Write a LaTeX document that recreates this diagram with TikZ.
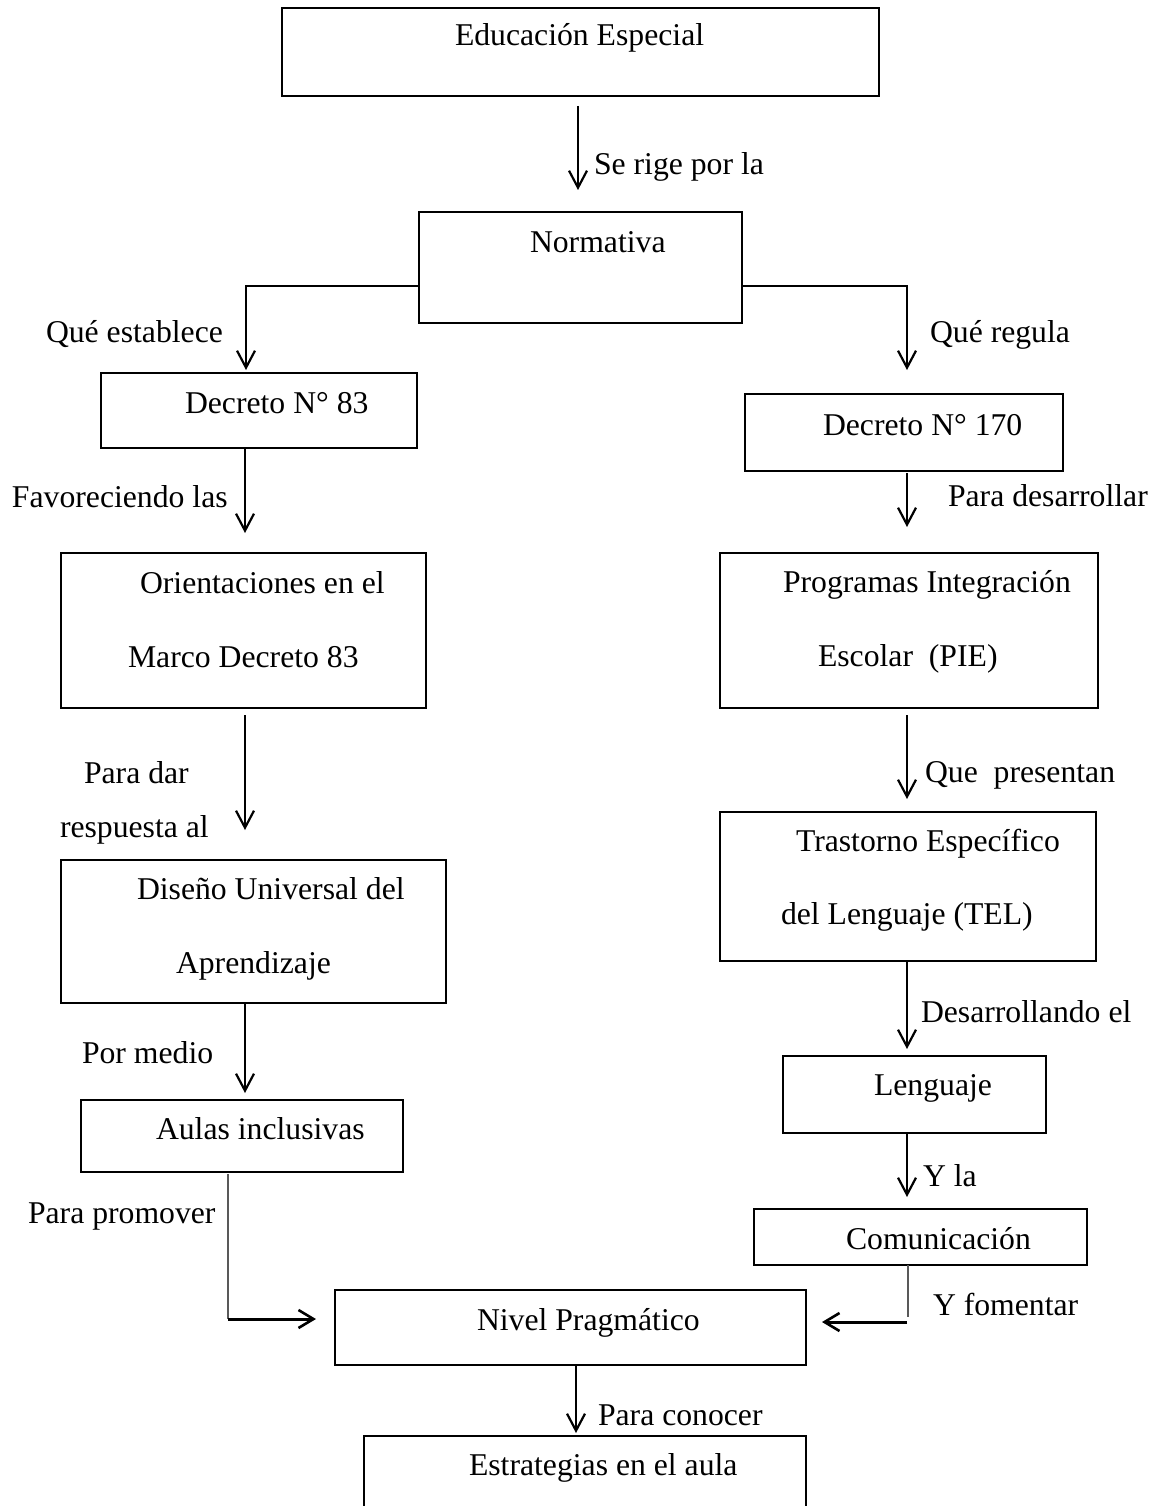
\documentclass[tikz,border=0pt]{standalone}
\usepackage{fontspec}
\setmainfont{Liberation Serif}
\usetikzlibrary{arrows.meta,calc}
\begin{document}
\begin{tikzpicture}[x=1pt,y=-1pt,
  box/.style={draw, line width=2.9pt, rectangle, inner sep=0pt, outer sep=0pt},
  txt/.style={anchor=base west, inner sep=0pt, outer sep=0pt, font=\fontsize{31.7}{38}\selectfont},
  arr/.style={line width=2.2pt, -{Straight Barb[length=17pt,width=18pt,line width=2.2pt]}},
  harr/.style={line width=3pt, -{Straight Barb[length=15pt,width=18pt,line width=2.6pt]}},
  thinline/.style={line width=1.3pt, draw=black!65}]
\useasboundingbox (0,0) rectangle (1155,1506);
\fill[white] (0,0) rectangle (1155,1506);
% boxes
\node[box, minimum width=597pt, minimum height=88pt] (edu) at (580.5,52) {};
\node[box, minimum width=323pt, minimum height=111pt] (norm) at (580.5,267.5) {};
\node[box, minimum width=316pt, minimum height=75pt] (d83) at (259,410.5) {};
\node[box, minimum width=318pt, minimum height=77pt] (d170) at (904,432.5) {};
\node[box, minimum width=365pt, minimum height=155pt] (ori) at (243.5,630.5) {};
\node[box, minimum width=378pt, minimum height=155pt] (pie) at (909,630.5) {};
\node[box, minimum width=385pt, minimum height=143pt] (dua) at (253.5,931.5) {};
\node[box, minimum width=376pt, minimum height=149pt] (tel) at (908,886.5) {};
\node[box, minimum width=322pt, minimum height=72pt] (aulas) at (242,1136) {};
\node[box, minimum width=263pt, minimum height=77pt] (leng) at (914.5,1094.5) {};
\node[box, minimum width=333pt, minimum height=56pt] (com) at (920.5,1237) {};
\node[box, minimum width=471pt, minimum height=75pt] (niv) at (570.5,1327.5) {};
\node[draw=none, inner sep=0pt, outer sep=0pt, minimum width=442pt, minimum height=70pt] (est) at (585,1471) {};
\draw[line width=2.9pt] (est.south west) -- (est.north west) -- (est.north east) -- (est.south east);
% box texts
\node[txt] (tedu) at (455,46) {Educación Especial};
\node[txt] (tnorm) at (530,253) {Normativa};
\node[txt] (td83) at (185,413) {Decreto N° 83};
\node[txt] (td170) at (823,435) {Decreto N° 170};
\node[txt] (tori1) at (140,593) {Orientaciones en el};
\node[txt] (tori2) at (128,667) {Marco Decreto 83};
\node[txt] (tpie1) at (783,592) {Programas Integración};
\node[txt] (tpie2) at (818,666) {Escolar\ \ (PIE)};
\node[txt] (tdua1) at (137,899) {Diseño Universal del};
\node[txt] (tdua2) at (176,973) {Aprendizaje};
\node[txt] (ttel1) at (796,851) {Trastorno Específico};
\node[txt] (ttel2) at (781,924) {del Lenguaje (TEL)};
\node[txt] (taulas) at (156,1139) {Aulas inclusivas};
\node[txt] (tleng) at (874,1095) {Lenguaje};
\node[txt] (tcom) at (846,1249) {Comunicación};
\node[txt] (tniv) at (477,1330) {Nivel Pragmático};
\node[txt] (test) at (469,1475) {Estrategias en el aula};
% labels
\node[txt] (l1) at (594,175) {Se rige por la};
\node[txt] (l2) at (46,342) {Qué establece};
\node[txt] (l3) at (930,342) {Qué regula};
\node[txt] (l4) at (12,507) {Favoreciendo las};
\node[txt] (l5) at (948,506) {Para desarrollar};
\node[txt] (l6a) at (84,783) {Para dar};
\node[txt] (l6b) at (60,837) {respuesta al};
\node[txt] (l7) at (925,782) {Que\ \ presentan};
\node[txt] (l8) at (921,1022) {Desarrollando el};
\node[txt] (l9) at (82,1063) {Por medio};
\node[txt] (l10) at (923,1186) {Y la};
\node[txt] (l11) at (28,1223) {Para promover};
\node[txt] (l12) at (933,1315) {Y fomentar};
\node[txt] (l13) at (598,1425) {Para conocer};
% connector columns
\coordinate (L) at (245,0);
\coordinate (R) at (907,0);
\coordinate (M) at (576,0);
\coordinate (P) at (228,1319);
\coordinate (Q) at (907,1322);
% connectors
\draw[arr] ($(edu.south)+(-2.5,10)$) -- ($(norm.north)+(-2.5,-22)$);
\draw[line width=1.6pt] ($(norm.west)+(0,18.5)$) -| ($(d83.north -| L)+(1,-40)$);
\draw[arr] ($(d83.north -| L)+(1,-42)$) -- ($(d83.north -| L)+(1,-3)$);
\draw[line width=1.6pt] ($(norm.east)+(0,18.5)$) -| ($(d170.north -| R)+(0,-60)$);
\draw[arr] ($(d170.north -| R)+(0,-62)$) -- ($(d170.north -| R)+(0,-24)$);
\draw[arr] (d83.south -| L) -- ($(ori.north -| L)+(0,-20)$);
\draw[arr] ($(d170.south -| R)+(0,2)$) -- ($(pie.north -| R)+(0,-26)$);
\draw[arr] ($(ori.south -| L)+(0,7)$) -- ($(dua.north -| L)+(0,-30)$);
\draw[arr] ($(pie.south -| R)+(0,7)$) -- ($(tel.north -| R)+(0,-13)$);
\draw[arr] (dua.south -| L) -- ($(aulas.north -| L)+(0,-7)$);
\draw[arr] (tel.south -| R) -- ($(leng.north -| R)+(0,-7)$);
\draw[arr] (leng.south -| R) -- ($(com.north -| R)+(0,-12)$);
\draw[thinline] ($(aulas.south -| P)+(0,2)$) -- (P);
\draw[harr] (P) -- ($(niv.west |- P)+(-19,0)$);
\draw[thinline] ($(com.south -| Q)+(1,0)$) -- ($(Q)+(1,-5)$);
\draw[harr] (Q) -- ($(niv.east |- Q)+(16,0)$);
\draw[arr] (niv.south -| M) -- ($(est.north -| M)+(0,-3)$);
\end{tikzpicture}
\end{document}
